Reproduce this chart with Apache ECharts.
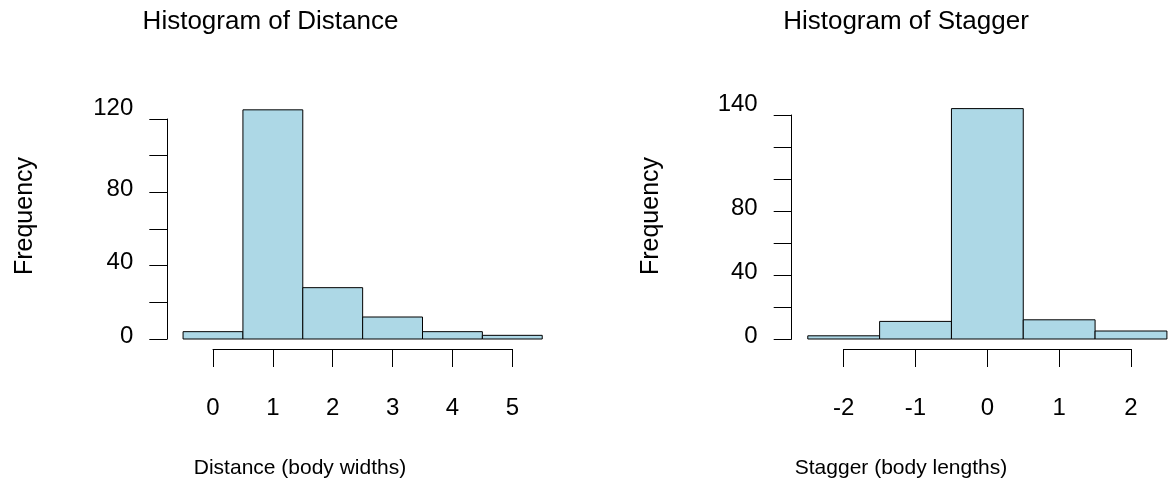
<!DOCTYPE html>
<html><head><meta charset="utf-8">
<script src="https://cdn.jsdelivr.net/npm/echarts@6/dist/echarts.min.js"></script>
<style>html,body{margin:0;padding:0;background:#fff}#c{width:1169px;height:491px}</style>
</head><body><div id="c"></div>
<script>
// ---- data ----
const distBreaks = [-0.5, 0.5, 1.5, 2.5, 3.5, 4.5, 5.5];
const distCounts = [4, 125, 28, 12, 4, 2];
const distXTicks = [0, 1, 2, 3, 4, 5];
const distYLabels = [0, 40, 80, 120];
const stagBreaks = [-2.5, -1.5, -0.5, 0.5, 1.5, 2.5];
const stagCounts = [2, 11, 144, 12, 5];
const stagXTicks = [-2, -1, 0, 1, 2];
const stagYLabels = [0, 40, 80, 140];
const mainTitles = ['Histogram of Distance', 'Histogram of Stagger'];
const xTitles = ['Distance (body widths)', 'Stagger (body lengths)'];
const yTitle = 'Frequency';

const FONT = '"Liberation Sans", Arial, Helvetica, sans-serif';
function histData(breaks, counts) {
  return counts.map((c, i) => [breaks[i], breaks[i + 1], c]);
}
function renderHist(params, api) {
  const p0 = api.coord([api.value(0), 0]);
  const p1 = api.coord([api.value(1), api.value(2)]);
  return {
    type: 'rect',
    shape: { x: p0[0], y: p1[1], width: p1[0] - p0[0], height: p0[1] - p1[1] },
    style: { fill: '#ADD8E6', stroke: '#000', lineWidth: 1 }
  };
}
function xAxisDef(gi, ticks, offset) {
  return {
    type: 'value', gridIndex: gi, min: ticks[0], max: ticks[ticks.length - 1], interval: 1,
    position: 'bottom', offset: offset,
    axisLine: { show: true, onZero: false, lineStyle: { color: '#000', width: 1 } },
    axisTick: { show: true, length: 18, lineStyle: { color: '#000', width: 1 } },
    axisLabel: { show: true, color: '#000', fontSize: 24, fontFamily: FONT, margin: 47 },
    splitLine: { show: false }
  };
}
function yAxisDef(gi, labels, offset) {
  const top = labels[labels.length - 1];
  return {
    type: 'value', gridIndex: gi, min: 0, max: top, interval: 20,
    position: 'left', offset: offset,
    axisLine: { show: true, onZero: false, lineStyle: { color: '#000', width: 1 } },
    axisTick: { show: true, length: 18, lineStyle: { color: '#000', width: 1 } },
    axisLabel: {
      show: true, color: '#000', fontSize: 24, fontFamily: FONT, margin: 34,
      customValues: labels,
      formatter: v => (v === top ? '{t|' + v + '}' : '{n|' + v + '}'),
      rich: {
        t: { fontSize: 24, fontFamily: FONT, color: '#000', padding: [0, 0, 22, 0] },
        n: { fontSize: 24, fontFamily: FONT, color: '#000', padding: [0, 0, 6, 0] }
      }
    },
    splitLine: { show: false }
  };
}
function txt(x, y, s, size, rot) {
  return {
    type: 'text', x: x, y: y, rotation: rot || 0,
    style: { text: s, x: 0, y: 0, fill: '#000', fontSize: size, fontFamily: FONT, align: 'center', verticalAlign: 'middle' }
  };
}

const chart = echarts.init(document.getElementById('c'), null, { renderer: 'canvas' });
chart.setOption({
  backgroundColor: '#fff',
  animation: false,
  grid: [
    { left: 213, top: 119, width: 299.3, height: 220 },
    { left: 843.7, top: 115, width: 287.3, height: 224 }
  ],
  xAxis: [xAxisDef(0, distXTicks, 10), xAxisDef(1, stagXTicks, 10)],
  yAxis: [yAxisDef(0, distYLabels, 45.7), yAxisDef(1, stagYLabels, 52)],
  series: [
    { type: 'custom', xAxisIndex: 0, yAxisIndex: 0, clip: false, renderItem: renderHist,
      encode: { x: [0, 1], y: 2 }, data: histData(distBreaks, distCounts) },
    { type: 'custom', xAxisIndex: 1, yAxisIndex: 1, clip: false, renderItem: renderHist,
      encode: { x: [0, 1], y: 2 }, data: histData(stagBreaks, stagCounts) }
  ],
  graphic: [
    txt(270.5, 22, mainTitles[0], 26),
    txt(906, 22, mainTitles[1], 26),
    txt(300, 468, xTitles[0], 21),
    txt(901, 468, xTitles[1], 21),
    txt(25, 216, yTitle, 25, Math.PI / 2),
    txt(651, 216, yTitle, 25, Math.PI / 2)
  ]
});
</script></body></html>
